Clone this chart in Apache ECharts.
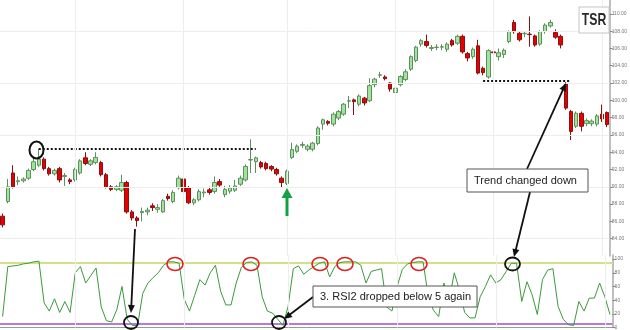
<!DOCTYPE html>
<html><head><meta charset="utf-8">
<script src="https://cdn.jsdelivr.net/npm/echarts@6/dist/echarts.min.js"></script>
<style>html,body{margin:0;padding:0;background:#fff;}#c{width:630px;height:330px;}</style>
</head><body><div id="c"></div>
<script>
// ---- data ----
const opens = [
86.6, 88.3, 91.6, 90.6, 90.7, 91.0, 92.0, 92.5, 93.2, 92.1,
91.5, 92.1, 91.2, 90.8, 90.8, 91.6, 93.35, 92.6, 92.8, 92.8,
91.4, 90.0, 89.7, 89.6, 90.5, 87.1, 86.4, 87.0, 87.1, 87.8,
87.4, 87.1, 88.9, 88.3, 89.9, 90.9, 89.9, 88.15, 88.5, 89.3,
89.65, 89.45, 90.6, 89.1, 89.5, 89.6, 90.3, 90.8, 93.1, 92.9,
92.8, 92.7, 92.35, 92.0, 91.0, 90.4, 93.4, 94.1, 94.8, 94.35,
94.35, 95.0, 97.25, 97.55, 97.25, 97.95, 98.4, 99.9, 100.05, 99.55,
100.25, 99.95, 101.8, 102.9, 102.7, 102.0, 100.9, 101.8, 102.4, 103.6,
104.6, 106.5, 106.8, 106.0, 106.1, 106.15, 105.9, 106.9, 106.6, 107.4,
105.4, 105.05, 106.3, 103.7, 102.7, 105.6, 105.05, 105.3, 106.8, 109.0,
107.75, 107.7, 107.65, 107.45, 106.5, 107.95, 108.6, 107.85, 107.4, 101.9,
98.7, 97.0, 98.5, 97.3, 97.3, 97.25, 98.4, 98.6];
const closes = [
85.6, 90.0, 90.0, 90.7, 90.9, 91.9, 92.9, 93.2, 92.1, 91.5,
91.9, 90.8, 91.3, 90.6, 92.0, 93.0, 92.7, 93.0, 93.4, 91.4,
90.0, 89.7, 90.0, 90.5, 87.1, 86.4, 86.1, 87.15, 87.3, 87.6,
87.6, 88.4, 88.65, 89.35, 91.0, 89.45, 88.15, 88.5, 89.45, 89.4,
89.35, 90.5, 90.2, 89.7, 89.9, 90.1, 91.0, 92.35, 93.15, 93.35,
92.3, 92.1, 92.05, 91.5, 90.5, 91.8, 94.3, 94.7, 94.9, 94.7,
95.05, 96.8, 97.75, 97.35, 98.4, 98.7, 99.55, 99.95, 99.85, 100.5,
99.7, 101.7, 102.45, 102.95, 102.5, 101.3, 101.4, 102.75, 103.3, 105.05,
106.15, 106.9, 106.35, 106.1, 106.15, 106.2, 106.5, 106.4, 107.4, 105.6,
104.9, 105.9, 103.15, 103.2, 105.75, 105.5, 105.5, 105.8, 107.95, 107.95,
107.0, 107.75, 107.6, 106.4, 107.95, 108.7, 109.0, 107.3, 106.4, 99.1,
96.4, 98.5, 97.0, 97.65, 97.6, 98.2, 97.85, 97.2];
const lows = [
85.3, 88.1, 89.8, 90.2, 90.5, 90.8, 91.8, 92.3, 91.9, 91.3,
91.3, 90.5, 90.1, 90.3, 90.6, 91.4, 92.5, 92.4, 92.6, 91.2,
89.8, 89.5, 89.5, 89.4, 86.9, 86.1, 85.4, 86.0, 86.7, 87.2,
87.0, 87.0, 88.4, 88.1, 89.7, 89.3, 88.0, 87.9, 88.3, 88.8,
89.1, 89.2, 90.0, 88.8, 89.2, 89.4, 90.1, 90.6, 91.6, 91.6,
92.1, 91.9, 91.8, 91.3, 89.9, 90.2, 93.2, 93.9, 94.5, 94.1,
94.1, 94.8, 96.6, 97.1, 97.0, 97.7, 98.2, 99.1, 98.3, 99.3,
99.4, 99.8, 101.5, 102.6, 102.3, 101.0, 100.6, 101.6, 102.2, 103.4,
104.4, 106.2, 106.1, 105.7, 105.8, 105.8, 105.6, 106.2, 106.4, 105.4,
104.5, 104.8, 103.0, 102.9, 102.5, 105.1, 104.6, 104.9, 106.6, 107.7,
106.8, 107.3, 106.2, 106.2, 106.3, 107.7, 108.4, 107.1, 106.0, 98.9,
95.4, 96.8, 96.4, 97.0, 97.0, 97.0, 97.5, 96.9];
const highs = [
86.9, 90.9, 92.5, 91.2, 91.1, 92.1, 93.3, 94.4, 93.4, 92.3,
92.1, 92.3, 91.6, 91.0, 92.2, 93.2, 94.0, 93.2, 94.0, 93.0,
91.6, 90.2, 90.2, 91.4, 90.7, 87.3, 86.6, 87.6, 87.6, 88.1,
88.0, 88.6, 89.2, 89.6, 91.3, 91.1, 90.1, 88.7, 89.7, 89.8,
90.0, 91.2, 90.9, 90.1, 90.2, 90.8, 91.3, 92.6, 95.5, 93.5,
93.0, 92.9, 92.5, 92.2, 91.2, 92.0, 95.1, 94.9, 95.2, 94.9,
95.2, 97.0, 97.9, 97.7, 98.6, 98.9, 99.7, 100.5, 100.2, 100.7,
100.4, 102.55, 102.6, 103.3, 102.9, 102.1, 101.5, 102.9, 103.6, 105.2,
106.3, 107.1, 107.6, 106.4, 106.5, 106.5, 106.7, 107.1, 107.6, 107.6,
105.6, 106.1, 107.0, 103.9, 105.9, 105.9, 106.0, 106.0, 108.1, 109.3,
108.0, 108.0, 109.7, 107.6, 108.1, 108.9, 109.3, 108.2, 107.6, 102.1,
98.9, 98.7, 98.7, 97.9, 97.8, 98.4, 99.5, 98.7];
const rsi2 = [
16, 89, 90, 91, 93, 94, 96, 97, 36, 24,
42, 22, 38, 22, 80, 89, 65, 76, 87, 30,
10, 8, 26, 60, 12, 3, 3, 50, 65, 73,
80, 91, 96, 96, 94, 41, 24, 47, 70, 62,
80, 91, 53, 33, 33, 65, 88, 95, 96, 91,
45, 24, 21, 12, 3, 31, 86, 90, 78, 84,
89, 94, 96, 74, 89, 95, 96, 96, 96, 91,
65, 82, 84, 86, 30, 24, 60, 85, 93, 95,
96, 96, 45, 25, 16, 65, 38, 80, 55, 22,
14, 14, 45, 60, 77, 65, 70, 82, 94, 94,
38, 67, 48, 19, 70, 84, 86, 31, 12, 4,
3, 38, 24, 43, 43, 65, 45, 19];
const days = opens.map((_, i) => 'D' + (i + 1));
const monthStarts = [14, 35, 55, 76, 95, 116];     // vertical grid lines (bar index)
const priceGrid = [84, 90, 96, 102, 108];          // horizontal grid lines
const rsiLevels = [95, 5];
const resistance = {from: 7, to: 49, price: 94.35};
const support = {from: 93, to: 110, price: 102.25};

const FONT = 'Liberation Sans';
const chart = echarts.init(document.getElementById('c'), null, {renderer: 'canvas'});
const L = -2.6, R = 17.4;

function arrow(x1, y1, x2, y2, color, w, hl, hw) {
  const dx = x2 - x1, dy = y2 - y1, len = Math.hypot(dx, dy);
  const ux = dx / len, uy = dy / len, px = -uy, py = ux;
  const bx = x2 - ux * hl, by = y2 - uy * hl;
  return [
    {type: 'line', z: 100, shape: {x1, y1, x2: bx + ux, y2: by + uy}, style: {stroke: color, lineWidth: w}},
    {type: 'polygon', z: 100, shape: {points: [[x2, y2], [bx + px * hw, by + py * hw], [bx - px * hw, by - py * hw]]}, style: {fill: color}}
  ];
}
function ell(cx, cy, rx, ry, color, w) {
  return {type: 'ellipse', z: 100, shape: {cx, cy, rx, ry}, style: {fill: 'none', stroke: color, lineWidth: w}};
}
function box(x, y, w, h, text) {
  return [
    {type: 'rect', z: 101, shape: {x, y, width: w, height: h}, style: {fill: '#fff', stroke: '#555', lineWidth: 1}},
    {type: 'text', z: 102, x: x + 7, y: y + h / 2, style: {text, fill: '#222', font: '11px ' + FONT, textVerticalAlign: 'middle'}}
  ];
}

const graphics = [].concat(
  [ell(36.5, 150, 7, 8.5, '#111', 2)],
  arrow(287, 216, 287, 188, '#14a045', 3, 10, 5.5),
  arrow(135, 229, 131, 313, '#111', 1.8, 8, 3.5),
  [ell(131, 322.5, 7, 6.5, '#111', 1.8), ell(279, 322.5, 7, 6.5, '#111', 1.8), ell(512.5, 264, 7.5, 6.5, '#111', 1.8)],
  [175, 251, 320, 345, 419].map(x => ell(x, 264, 8, 6.5, '#e02020', 1.6)),
  arrow(527, 169, 566, 83, '#111', 1.8, 8, 3.5),
  arrow(530, 192, 514, 257, '#111', 1.8, 8, 3.5),
  arrow(313, 297, 284, 319, '#111', 1.8, 8, 3.5),
  box(467, 169, 121, 23, 'Trend changed down'),
  box(313, 286, 164, 21, '3. RSI2 dropped below 5 again'),
  [{type: 'rect', z: 101, shape: {x: 579, y: 7, width: 30, height: 26}, style: {fill: '#fff', stroke: '#c4c4c4', lineWidth: 1}},
   {type: 'text', z: 102, x: 594, y: 20.5, scaleX: 0.72, style: {text: 'TSR', fill: '#2a2a2a', font: 'bold 17px ' + FONT, textAlign: 'center', textVerticalAlign: 'middle'}}]
);

const gridLineStyle = {color: '#ededed', width: 1, type: 'solid'};
const vLines = monthStarts.map(i => ({xAxis: days[i]}));

const option = {
  animation: false,
  backgroundColor: '#fff',
  textStyle: {fontFamily: FONT},
  grid: [
    {left: L, right: R, top: 0, height: 256},
    {left: L, right: R, top: 255, bottom: 2}
  ],
  xAxis: [
    {type: 'category', gridIndex: 0, data: days, boundaryGap: true, axisLine: {show: false}, axisTick: {show: false}, axisLabel: {show: false}, splitLine: {show: false}},
    {type: 'category', gridIndex: 1, data: days, boundaryGap: true, position: 'top', axisLine: {show: true, lineStyle: {color: '#999', width: 1}}, axisTick: {show: false}, axisLabel: {show: false}, splitLine: {show: false}}
  ],
  yAxis: [
    {type: 'value', gridIndex: 0, position: 'right', min: 82, max: 111.6, interval: 2,
     axisLine: {show: true, lineStyle: {color: '#aaa', width: 1.5}},
     axisTick: {show: true, length: 3, lineStyle: {color: '#888'}},
     axisLabel: {show: true, fontSize: 5, color: '#777', margin: 2, showMinLabel: false, showMaxLabel: false, formatter: v => v.toFixed(2)},
     splitLine: {show: false}},
    {type: 'value', gridIndex: 1, position: 'right', min: 0, max: 106, interval: 20,
     axisLine: {show: true, lineStyle: {color: '#aaa', width: 1.5}},
     axisTick: {show: true, length: 3, lineStyle: {color: '#888'}},
     axisLabel: {show: true, fontSize: 5, color: '#777', margin: 2, showMaxLabel: false, formatter: v => String(v)},
     splitLine: {show: false}}
  ],
  series: [
    {type: 'line', xAxisIndex: 0, yAxisIndex: 0, data: [], z: 1, silent: true,
     markLine: {silent: true, symbol: 'none', label: {show: false}, lineStyle: gridLineStyle,
       data: priceGrid.map(v => ({yAxis: v})).concat(vLines)}},
    {type: 'line', xAxisIndex: 1, yAxisIndex: 1, data: [], z: 1, silent: true,
     markLine: {silent: true, symbol: 'none', label: {show: false}, lineStyle: gridLineStyle, data: vLines}},
    {type: 'candlestick', xAxisIndex: 0, yAxisIndex: 0, z: 3, barWidth: 4,
     data: opens.map((o, i) => [o, closes[i], lows[i], highs[i]]),
     itemStyle: {color: '#9be69b', color0: '#e60000', borderColor: '#5f8f5f', borderColor0: '#8c1010', borderWidth: 1},
     markLine: {silent: true, symbol: 'none', z: 4,
       data: [
         [{coord: [days[resistance.from], resistance.price], lineStyle: {color: '#111', width: 2, type: [2, 2]}, label: {show: false}},
          {coord: [days[resistance.to], resistance.price]}],
         [{coord: [days[support.from], support.price], lineStyle: {color: '#111', width: 2, type: [2, 2]}, label: {show: false}},
          {coord: [days[support.to], support.price]}],
         {yAxis: closes[closes.length - 1], lineStyle: {opacity: 0},
          label: {show: true, position: 'end', distance: 3, formatter: p => p.value.toFixed(2), fontSize: 5, color: '#fff', backgroundColor: '#555', padding: [1, 1]}}
       ]}},
    {type: 'line', xAxisIndex: 1, yAxisIndex: 1, data: rsi2, symbol: 'none', z: 3,
     lineStyle: {color: '#3c9a3c', width: 1},
     markLine: {silent: true, symbol: 'none', z: 2,
       data: [
         {yAxis: rsiLevels[0], lineStyle: {color: '#d5e08a', width: 2, type: 'solid'}, label: {show: false}},
         {yAxis: rsiLevels[1], lineStyle: {color: '#b77ad8', width: 2, type: 'solid'}, label: {show: false}},
         {yAxis: rsi2[rsi2.length - 1], lineStyle: {opacity: 0},
          label: {show: true, position: 'end', distance: 3, formatter: p => p.value.toFixed(2), fontSize: 5, color: '#fff', backgroundColor: '#555', padding: [1, 1]}}
       ]}}
  ],
  graphic: graphics
};
chart.setOption(option);
</script></body></html>
